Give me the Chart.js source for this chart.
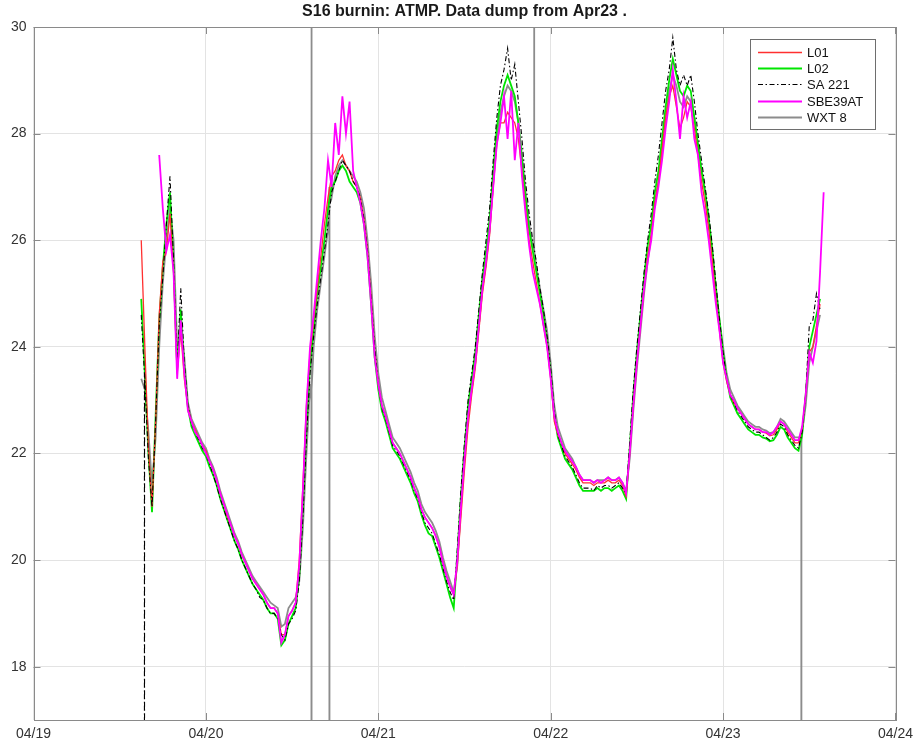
<!DOCTYPE html>
<html>
<head>
<meta charset="utf-8">
<script src="https://cdn.jsdelivr.net/npm/chart.js@4.4.0/dist/chart.umd.min.js"></script>
<style>
  body { margin: 0; background: #fff; }
</style>
</head>
<body>
<canvas id="atmp" width="919" height="746"></canvas>
<script>
// time axis: hours since 04/19 00:00, one sample every half hour from 15:00
const startHour = 15;
const stepHour = 0.5;

const l01 = [
  26.0, 24.0, 22.1, 21.0, 22.6, 24.6, 25.6, 25.8, 26.5, 25.4,
  23.5, 24.3, 23.4, 22.85, 22.6, 22.45, 22.3, 22.15, 22.05, 21.85,
  21.7, 21.5, 21.25, 21.05, 20.8, 20.65, 20.45, 20.3, 20.1, 19.95,
  19.8, 19.65, 19.55, 19.45, 19.35, 19.2, 19.1, 19.1, 19.0, 18.6,
  18.6, 18.95, 19.05, 19.2, 20.0, 21.4, 22.9, 23.9, 24.5, 25.1,
  25.7, 26.3, 26.8, 27.2, 27.3, 27.5, 27.6, 27.4, 27.3, 27.1,
  27.0, 26.8, 26.4, 25.8, 24.9, 23.9, 23.3, 22.9, 22.7, 22.45,
  22.2, 22.1, 22.0, 21.85, 21.7, 21.55, 21.35, 21.2, 20.95, 20.8,
  20.7, 20.6, 20.45, 20.25, 19.95, 19.7, 19.5, 19.35, 19.9, 20.8,
  21.7, 22.5, 23.1, 23.6, 24.3, 25.0, 25.5, 26.1, 27.0, 27.8,
  28.2, 28.2, 28.4, 28.3, 28.2, 27.9, 27.3, 26.6, 26.0, 25.6,
  25.2, 24.8, 24.4, 24.0, 23.4, 22.6, 22.35, 22.2, 22.0, 21.9,
  21.8, 21.7, 21.55, 21.45, 21.45, 21.45, 21.4, 21.45, 21.45, 21.45,
  21.5, 21.45, 21.45, 21.5, 21.4, 21.2, 22.0, 22.9, 23.7, 24.4,
  25.1, 25.7, 26.1, 26.7, 27.1, 27.7, 28.3, 28.7, 28.9, 28.5,
  28.1, 28.3, 28.6, 28.5, 28.1, 27.6, 27.1, 26.7, 26.2, 25.6,
  24.9, 24.3, 23.7, 23.35, 23.1, 22.95, 22.85, 22.75, 22.65, 22.55,
  22.5, 22.45, 22.45, 22.4, 22.38, 22.33, 22.35, 22.45, 22.6, 22.55,
  22.4, 22.3, 22.2, 22.2, 22.45, 23.1, 23.9, 24.0, 24.4, 24.8,
  null
];

const l02 = [
  24.9, 23.5, 22.0, 20.9, 22.7, 24.5, 25.5, 26.3, 26.9, 25.5,
  23.6, 24.7, 23.6, 22.85, 22.5, 22.35, 22.2, 22.05, 21.95, 21.75,
  21.6, 21.4, 21.15, 20.95, 20.75, 20.55, 20.35, 20.2, 20.0, 19.85,
  19.7, 19.55, 19.45, 19.35, 19.25, 19.1, 19.0, 19.0, 18.9, 18.4,
  18.5, 18.8, 18.95, 19.1, 19.7, 21.0, 22.5, 23.7, 24.3, 25.0,
  25.5, 26.0, 26.6, 27.0, 27.1, 27.3, 27.4, 27.3, 27.1, 27.0,
  26.9, 26.7, 26.3, 25.7, 24.8, 23.8, 23.2, 22.8, 22.6, 22.35,
  22.1, 22.0, 21.9, 21.75, 21.6, 21.45, 21.25, 21.1, 20.85, 20.65,
  20.5, 20.45, 20.25, 20.05, 19.8, 19.55, 19.3, 19.1, 20.1, 21.2,
  22.1, 22.9, 23.4, 23.9, 24.6, 25.3, 25.8, 26.4, 27.3, 28.1,
  28.6, 28.9, 29.1, 28.9, 28.7, 28.2, 27.5, 26.8, 26.2, 25.8,
  25.4, 25.0, 24.6, 24.1, 23.5, 22.7, 22.3, 22.1, 21.9, 21.8,
  21.7, 21.55, 21.4, 21.3, 21.3, 21.3, 21.3, 21.35, 21.3, 21.35,
  21.35, 21.3, 21.35, 21.4, 21.3, 21.15, 22.1, 23.1, 23.9, 24.6,
  25.3, 25.9, 26.3, 26.9, 27.3, 27.9, 28.5, 29.0, 29.4, 29.1,
  28.8, 28.7, 28.9, 28.8, 28.3, 27.8, 27.3, 26.9, 26.4, 25.8,
  25.1, 24.5, 23.9, 23.4, 23.05, 22.9, 22.75, 22.65, 22.55, 22.45,
  22.4, 22.35, 22.35, 22.3, 22.28, 22.23, 22.25, 22.35, 22.5, 22.45,
  22.3, 22.2, 22.1, 22.05, 22.35, 23.1, 24.0, 24.3, 24.6, 24.9,
  null
];

const sa221 = [
  24.6, 23.4, 21.9, 21.0, 22.6, 24.4, 25.3, 26.3, 27.2, 25.6,
  23.6, 25.1, 23.7, 22.9, 22.55, 22.4, 22.25, 22.1, 22.0, 21.8,
  21.6, 21.4, 21.15, 20.95, 20.75, 20.55, 20.35, 20.2, 20.0, 19.85,
  19.7, 19.55, 19.45, 19.3, 19.25, 19.1, 19.0, 19.0, 18.9, 18.6,
  18.5, 18.8, 18.9, 19.05, 19.6, 20.8, 22.3, 23.5, 24.2, 24.8,
  25.3, 25.8, 26.3, 26.9, 27.1, 27.3, 27.5, 27.4, 27.3, 27.1,
  27.0, 26.8, 26.4, 25.8, 24.9, 24.0, 23.3, 22.85, 22.65, 22.4,
  22.15, 22.05, 21.95, 21.8, 21.65, 21.5, 21.3, 21.15, 20.9, 20.7,
  20.6, 20.5, 20.3, 20.1, 19.85, 19.6, 19.4, 19.25, 20.2, 21.3,
  22.2, 23.0, 23.5, 24.0, 24.7, 25.4, 26.0, 26.6, 27.5, 28.3,
  28.9, 29.2, 29.6, 29.0, 29.3, 28.6, 27.9, 27.1, 26.5, 26.0,
  25.6, 25.1, 24.7, 24.2, 23.6, 22.8, 22.35, 22.15, 21.95, 21.85,
  21.75, 21.6, 21.45, 21.35, 21.35, 21.35, 21.3, 21.4, 21.35, 21.4,
  21.4, 21.35, 21.4, 21.45, 21.35, 21.25, 22.2, 23.2, 24.0, 24.7,
  25.4, 26.0, 26.5, 27.1, 27.6, 28.2, 28.8, 29.2, 29.8, 29.2,
  28.9, 29.1, 28.9, 29.1, 28.6, 28.0, 27.5, 27.0, 26.5, 25.9,
  25.2, 24.5, 23.9, 23.4, 23.1, 22.95, 22.8, 22.7, 22.6, 22.5,
  22.45, 22.4, 22.4, 22.35, 22.3, 22.25, 22.3, 22.4, 22.55, 22.5,
  22.35, 22.25, 22.15, 22.1, 22.4, 23.1, 24.4, 24.5, 25.0, 24.7,
  null
];

const sbe39at = [
  null, null, null, null, null, 27.6, 26.6, 25.8, 26.1, 25.4,
  23.4, 24.5, 23.5, 22.8, 22.6, 22.4, 22.3, 22.15, 22.0, 21.85,
  21.7, 21.5, 21.25, 21.05, 20.85, 20.65, 20.45, 20.3, 20.1, 19.95,
  19.8, 19.65, 19.55, 19.45, 19.35, 19.2, 19.1, 19.1, 19.0, 18.45,
  18.6, 18.95, 19.05, 19.2, 19.9, 21.3, 22.9, 24.0, 24.6, 25.3,
  26.0, 26.6, 27.5, 27.0, 28.2, 27.6, 28.7, 28.0, 28.6, 27.3,
  27.0, 26.7, 26.3, 25.7, 24.8, 23.8, 23.3, 22.9, 22.7, 22.45,
  22.2, 22.1, 22.0, 21.85, 21.7, 21.55, 21.35, 21.2, 20.95, 20.8,
  20.7, 20.6, 20.45, 20.25, 19.95, 19.7, 19.5, 19.35, 20.0, 21.0,
  21.9, 22.7, 23.2, 23.7, 24.4, 25.1, 25.6, 26.2, 27.0, 27.8,
  28.2, 28.7, 27.9, 28.8, 27.5, 28.2, 27.2, 26.5, 25.9, 25.4,
  25.1, 24.8, 24.4, 24.0, 23.4, 22.7, 22.4, 22.2, 22.05, 21.95,
  21.85, 21.75, 21.6, 21.5, 21.5, 21.5, 21.45, 21.5, 21.45, 21.5,
  21.55, 21.5, 21.5, 21.55, 21.45, 21.25, 22.0, 22.9, 23.7, 24.4,
  25.1, 25.6, 26.0, 26.6, 27.0, 27.5, 28.1, 28.6, 29.2, 28.6,
  27.9, 28.7, 28.3, 28.6, 27.9, 27.6, 26.9, 26.5, 26.0, 25.4,
  24.8, 24.3, 23.7, 23.4, 23.1, 23.0, 22.85, 22.75, 22.65, 22.55,
  22.5, 22.45, 22.45, 22.4, 22.4, 22.35, 22.4, 22.5, 22.6, 22.55,
  22.45, 22.35, 22.25, 22.25, 22.5, 23.1, 23.9, 23.7, 24.1, 25.4,
  26.9
];

const wxt8 = [
  23.4, 23.2, 22.4, 21.4, 22.3, 24.0, 25.2, 26.0, 26.6, 26.0,
  24.0, 24.4, 23.8, 22.95, 22.65, 22.5, 22.35, 22.2, 22.1, 21.9,
  21.75, 21.55, 21.3, 21.1, 20.9, 20.7, 20.5, 20.35, 20.15, 20.0,
  19.85, 19.7, 19.6, 19.5, 19.4, 19.3, 19.2, 19.15, 19.1, 18.75,
  18.8, 19.1, 19.2, 19.3, 19.6, 20.6, 22.0, 23.3, 24.0, 24.7,
  25.2, 25.7, 26.2, 26.8, 27.2, 27.4, 27.5, 27.4, 27.3, 27.2,
  27.1, 26.9, 26.6, 26.0, 25.2, 24.2, 23.5, 23.05, 22.8, 22.55,
  22.3, 22.2, 22.1, 21.95, 21.8, 21.65, 21.45, 21.3, 21.05, 20.9,
  20.8, 20.7, 20.55, 20.35, 20.05, 19.8, 19.6, 19.4, 19.9, 21.0,
  21.9, 22.7, 23.2, 23.7, 24.4, 25.1, 25.6, 26.2, 27.1, 27.9,
  28.4, 28.7, 28.9, 28.8, 28.6, 28.2, 27.6, 26.9, 26.3, 25.9,
  25.5, 25.1, 24.7, 24.3, 23.7, 22.9, 22.5, 22.3, 22.1, 22.0,
  21.9, 21.75, 21.6, 21.5, 21.5, 21.5, 21.45, 21.5, 21.5, 21.5,
  21.55, 21.5, 21.5, 21.55, 21.45, 21.3, 21.9, 22.8, 23.6, 24.3,
  25.0, 25.6, 26.1, 26.7, 27.1, 27.7, 28.3, 28.8, 29.1, 28.9,
  28.6, 28.5, 28.7, 28.6, 28.3, 27.8, 27.3, 26.9, 26.4, 25.8,
  25.1, 24.5, 24.0, 23.5, 23.2, 23.05, 22.9, 22.8, 22.7, 22.6,
  22.55, 22.5, 22.5, 22.45, 22.43, 22.38, 22.4, 22.5, 22.65, 22.6,
  22.5, 22.4, 22.3, 22.3, 22.4, 22.9, 23.7, 24.0, 24.3, 24.6,
  null
];

// dropouts / bad samples with the readings right beside them: [hour, value]
const sa221Spikes = [[15.44, 23.5], [15.45, 0], [15.46, 23.5]];
const wxt8Spikes = [
  [38.69, 23.0], [38.7, 40], [38.71, 0], [38.72, 23.2],
  [41.19, 27.0], [41.2, 0], [41.21, 27.0],
  [69.69, 25.8], [69.7, 40], [69.71, 25.8],
  [106.89, 22.2], [106.9, 0], [106.91, 22.2]
];

const dayLabels = ["04/19", "04/20", "04/21", "04/22", "04/23", "04/24"];
const seriesNames = ["L01", "L02", "SA 221", "SBE39AT", "WXT 8"];

function toPoints(vals, spikes) {
  const pts = vals.map((v, i) => ({ x: startHour + i * stepHour, y: v }));
  (spikes || []).forEach(s => pts.push({ x: s[0], y: s[1] }));
  return pts.sort((a, b) => a.x - b.x);
}

const axisColor = "#8a8a8a";
const tickFont = { family: "'Liberation Sans', Arial, sans-serif", size: 14 };

// MATLAB-like box with inward ticks
const frame = {
  id: "frame",
  afterDatasetsDraw(chart) {
    const { ctx, chartArea: a, scales } = chart;
    ctx.save();
    ctx.strokeStyle = axisColor;
    ctx.lineWidth = 1;
    ctx.beginPath();
    scales.x.ticks.forEach(t => {
      const px = Math.round(scales.x.getPixelForValue(t.value)) + 0.5;
      ctx.moveTo(px, a.bottom); ctx.lineTo(px, a.bottom - 7);
      ctx.moveTo(px, a.top); ctx.lineTo(px, a.top + 7);
    });
    scales.y.ticks.forEach(t => {
      const py = Math.round(scales.y.getPixelForValue(t.value)) + 0.5;
      ctx.moveTo(a.left, py); ctx.lineTo(a.left + 7, py);
      ctx.moveTo(a.right, py); ctx.lineTo(a.right - 7, py);
    });
    ctx.stroke();
    ctx.strokeRect(Math.round(a.left) + 0.5, Math.round(a.top) + 0.5,
      Math.round(a.right - a.left), Math.round(a.bottom - a.top));
    ctx.restore();
  }
};

const boxLegend = {
  id: "boxLegend",
  afterDraw(chart) {
    const { ctx, chartArea: a } = chart;
    const ds = chart.data.datasets;
    const w = 125, rowH = 16.4;
    const h = ds.length * rowH + 8;
    const left = Math.round(a.right - 20 - w), top = Math.round(a.top + 12);
    ctx.save();
    ctx.fillStyle = "#fff";
    ctx.fillRect(left, top, w, h);
    ctx.strokeStyle = "#6e6e6e";
    ctx.lineWidth = 1;
    ctx.strokeRect(left + 0.5, top + 0.5, w, h);
    ctx.font = "13px 'Liberation Sans', Arial, sans-serif";
    ctx.textBaseline = "middle";
    ds.forEach((d, i) => {
      const y = Math.round(top + 12.5 + i * rowH) + 0.5;
      ctx.beginPath();
      ctx.strokeStyle = d.borderColor;
      ctx.lineWidth = d.borderWidth;
      ctx.setLineDash(d.borderDash || []);
      ctx.moveTo(left + 8, y);
      ctx.lineTo(left + 52, y);
      ctx.stroke();
      ctx.setLineDash([]);
      ctx.fillStyle = "#111";
      ctx.fillText(d.label, left + 57, y + 0.5);
    });
    ctx.restore();
  }
};

const lineDefaults = { pointRadius: 0, tension: 0, spanGaps: false };

new Chart(document.getElementById("atmp"), {
  type: "line",
  data: {
    datasets: [
      { ...lineDefaults, label: seriesNames[0], data: toPoints(l01), borderColor: "#ff3030", borderWidth: 1.3, order: 2 },
      { ...lineDefaults, label: seriesNames[1], data: toPoints(l02), borderColor: "#00e600", borderWidth: 1.8, order: 3 },
      { ...lineDefaults, label: seriesNames[2], data: toPoints(sa221, sa221Spikes), borderColor: "#000", borderWidth: 1.1, borderDash: [5, 2.5, 1.5, 2.5], order: 1 },
      { ...lineDefaults, label: seriesNames[3], data: toPoints(sbe39at), borderColor: "#ff00ff", borderWidth: 1.8, order: 0 },
      { ...lineDefaults, label: seriesNames[4], data: toPoints(wxt8, wxt8Spikes), borderColor: "#8c8c8c", borderWidth: 1.8, order: 4 }
    ]
  },
  options: {
    responsive: false,
    animation: false,
    layout: { padding: { left: 0, right: 18.4, top: 0, bottom: 0 } },
    plugins: {
      legend: { display: false },
      tooltip: { enabled: false },
      title: {
        display: true,
        fullSize: false,
        text: "S16 burnin: ATMP. Data dump from Apr23 .",
        color: "#1a1a1a",
        font: { family: "'Liberation Sans', Arial, sans-serif", size: 16, weight: "bold" },
        padding: { top: 1.5, bottom: 6.3 }
      }
    },
    scales: {
      x: {
        type: "linear",
        min: 0,
        max: 120,
        ticks: {
          stepSize: 24,
          padding: 6,
          maxRotation: 0,
          color: "#333",
          font: tickFont,
          callback: v => dayLabels[Math.round(v / 24)]
        },
        grid: { color: "#e3e3e3", drawTicks: false },
        border: { display: false },
        afterFit(s) { s.height = 26; }
      },
      y: {
        min: 17,
        max: 30,
        ticks: {
          stepSize: 2,
          includeBounds: false,
          padding: 7,
          color: "#333",
          font: tickFont
        },
        grid: { color: "#e3e3e3", drawTicks: false },
        border: { display: false },
        afterFit(s) { s.width = 33.5; }
      }
    }
  },
  plugins: [frame, boxLegend]
});
</script>
</body>
</html>
